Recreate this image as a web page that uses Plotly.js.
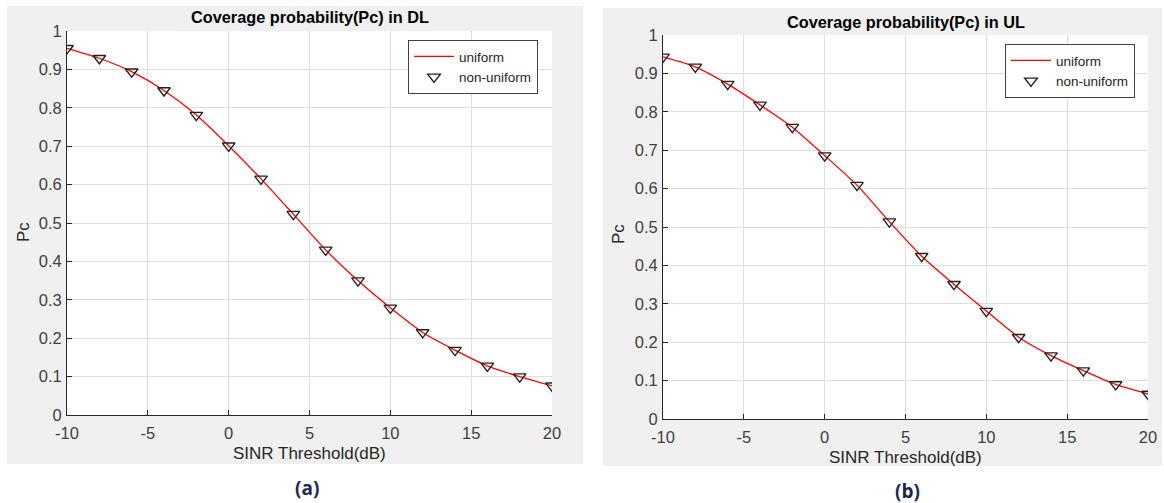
<!DOCTYPE html>
<html>
<head>
<meta charset="utf-8">
<script src="https://cdn.plot.ly/plotly-3.0.1.min.js"></script>
<style>
  html, body { margin: 0; padding: 0; background: #ffffff; }
  #chart { width: 1164px; height: 503px; }
</style>
</head>
<body>
<div id="chart"></div>
<script>
// SINR thresholds (dB) shared by both panels
const sinrThreshold = [-10, -8, -6, -4, -2, 0, 2, 4, 6, 8, 10, 12, 14, 16, 18, 20];

// Downlink coverage probability
const dlUniform    = [0.955, 0.929, 0.894, 0.845, 0.781, 0.701, 0.615, 0.523, 0.430, 0.350, 0.279, 0.215, 0.169, 0.128, 0.100, 0.076];
const dlNonUniform = [0.955, 0.929, 0.894, 0.845, 0.781, 0.701, 0.615, 0.523, 0.430, 0.350, 0.279, 0.215, 0.169, 0.128, 0.100, 0.076];

// Uplink coverage probability
const ulUniform    = [0.943, 0.917, 0.872, 0.818, 0.760, 0.686, 0.609, 0.514, 0.424, 0.351, 0.281, 0.213, 0.165, 0.126, 0.090, 0.065];
const ulNonUniform = [0.943, 0.917, 0.872, 0.818, 0.760, 0.686, 0.609, 0.514, 0.424, 0.351, 0.281, 0.213, 0.165, 0.126, 0.090, 0.065];

const xTicks = [-10, -5, 0, 5, 10, 15, 20];
const yTicks = [0, 0.1, 0.2, 0.3, 0.4, 0.5, 0.6, 0.7, 0.8, 0.9, 1];
const yTickText = ['0', '0.1', '0.2', '0.3', '0.4', '0.5', '0.6', '0.7', '0.8', '0.9', '1'];

const seriesNames = ['uniform', 'non-uniform'];
const panelTitles = ['Coverage probability(Pc) in DL', 'Coverage probability(Pc) in UL'];
const panelLabels = ['(a)', '(b)'];
const xTitle = 'SINR Threshold(dB)';
const yTitle = 'Pc';

const W = 1164, H = 503;
const px = v => v / W;
const py = v => 1 - v / H;

const FONT = 'Liberation Sans, Arial, Helvetica, sans-serif';
const RED = '#ff0000';
const AXIS = '#262626';
const GRID = '#dedede';
const FIG = '#f0f0f0';

function lineTrace(y, xa, ya, lg) {
  return {
    x: sinrThreshold, y: y, xaxis: xa, yaxis: ya, legend: lg,
    type: 'scatter', mode: 'lines', name: seriesNames[0],
    line: { color: RED, width: 1.3, shape: 'spline', smoothing: 0.6 },
    hoverinfo: 'x+y'
  };
}
function markerTrace(y, xa, ya, lg) {
  return {
    x: sinrThreshold, y: y, xaxis: xa, yaxis: ya, legend: lg,
    type: 'scatter', mode: 'markers', name: seriesNames[1],
    marker: { symbol: 'triangle-down-open', size: 11, color: '#222222', line: { width: 1.4, color: '#222222' } },
    hoverinfo: 'x+y'
  };
}

const data = [
  lineTrace(dlUniform, 'x', 'y', 'legend'),
  markerTrace(dlNonUniform, 'x', 'y', 'legend'),
  lineTrace(ulUniform, 'x2', 'y2', 'legend2'),
  markerTrace(ulNonUniform, 'x2', 'y2', 'legend2')
];

function tickFont() {
  return { family: FONT, size: 16.5, color: '#404040' };
}

function xAxis(domain, anchor) {
  return {
    domain: domain, anchor: anchor, range: [-10, 20],
    tickmode: 'array', tickvals: xTicks, ticktext: xTicks.map(String),
    ticks: 'inside', ticklen: 5, tickcolor: AXIS, tickwidth: 1,
    ticklabelstandoff: 3,
    showline: true, linecolor: AXIS, linewidth: 1,
    showgrid: true, gridcolor: GRID, gridwidth: 1,
    zeroline: false, mirror: false,
    tickfont: tickFont(),
    fixedrange: true
  };
}
function yAxis(domain, anchor) {
  return {
    domain: domain, anchor: anchor, range: [0, 1],
    tickmode: 'array', tickvals: yTicks, ticktext: yTickText,
    ticks: 'inside', ticklen: 5, tickcolor: AXIS, tickwidth: 1,
    ticklabelstandoff: 1,
    showline: true, linecolor: AXIS, linewidth: 1,
    showgrid: true, gridcolor: GRID, gridwidth: 1,
    zeroline: false, mirror: false,
    tickfont: tickFont(),
    fixedrange: true
  };
}

function legendAt(x, y) {
  return {
    x: x, y: y, xanchor: 'left', yanchor: 'top',
    bgcolor: '#ffffff', bordercolor: '#404040', borderwidth: 1,
    font: { family: FONT, size: 13.5, color: '#262626' },
    tracegroupgap: 0, itemwidth: 40
  };
}

// panel geometry in pixels
const P1 = { l: 67, r: 552, t: 31, b: 415 };
const P2 = { l: 663, r: 1148, t: 35, b: 419 };

function rect(x0, x1, y0, y1, color) {
  return { type: 'rect', xref: 'paper', yref: 'paper', layer: 'below',
           x0: px(x0), x1: px(x1), y0: py(y1), y1: py(y0), fillcolor: color, line: { width: 0 } };
}

function note(text, x, y, size, color, angle, family) {
  return { text: text, xref: 'paper', yref: 'paper', x: px(x), y: py(y),
           xanchor: 'center', yanchor: 'middle', showarrow: false, textangle: angle || 0,
           font: { family: family || FONT, size: size, color: color } };
}

const layout = {
  width: W, height: H,
  margin: { l: 0, r: 0, t: 0, b: 0 },
  paper_bgcolor: '#ffffff',
  plot_bgcolor: '#ffffff',
  font: { family: FONT },
  xaxis: xAxis([px(P1.l), px(P1.r)], 'y'),
  yaxis: yAxis([py(P1.b), py(P1.t)], 'x'),
  xaxis2: xAxis([px(P2.l), px(P2.r)], 'y2'),
  yaxis2: yAxis([py(P2.b), py(P2.t)], 'x2'),
  legend: legendAt(px(408), py(40)),
  legend2: legendAt(px(1005), py(44)),
  shapes: [
    // figure backgrounds
    rect(7, 583, 6, 464, FIG),
    rect(603, 1162, 8, 466, FIG),
    // white axes areas
    rect(P1.l, P1.r, P1.t, P1.b, '#ffffff'),
    rect(P2.l, P2.r, P2.t, P2.b, '#ffffff')
  ],
  annotations: [
    note('<b>' + panelTitles[0] + '</b>', (P1.l + P1.r) / 2, 17, 16.3, '#000000'),
    note('<b>' + panelTitles[1] + '</b>', (P2.l + P2.r) / 2, 22, 16.3, '#000000'),
    note(xTitle, (P1.l + P1.r) / 2, 453, 17, '#262626'),
    note(xTitle, (P2.l + P2.r) / 2, 457, 17, '#262626'),
    note(yTitle, 23, 232, 17, '#262626', -90),
    note(yTitle, 619, 234, 17, '#262626', -90),
    note('<b>' + panelLabels[0] + '</b>', 307, 488, 19, '#1b2a4a', 0, 'Open Sans, Noto Sans, sans-serif'),
    note('<b>' + panelLabels[1] + '</b>', 907, 491, 19, '#1b2a4a', 0, 'Open Sans, Noto Sans, sans-serif')
  ],
  showlegend: true
};

Plotly.newPlot('chart', data, layout, { displayModeBar: false, staticPlot: true });
</script>
</body>
</html>
